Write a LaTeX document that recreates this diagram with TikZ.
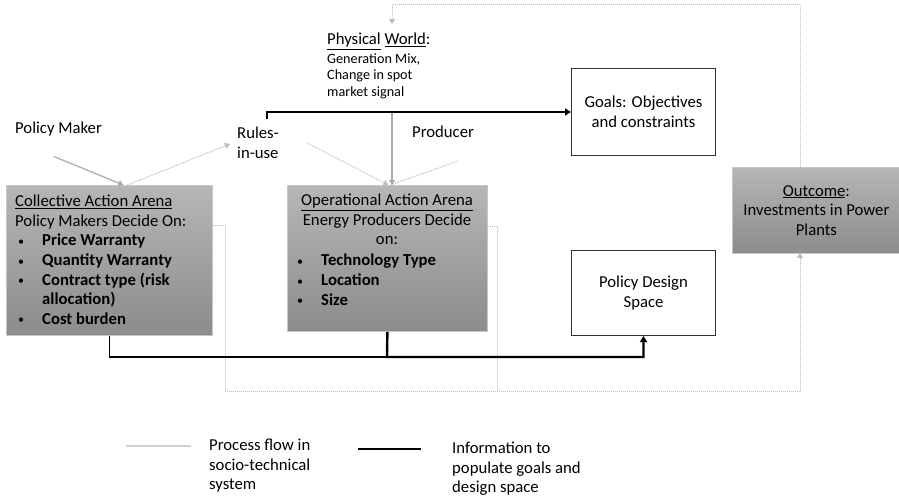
\documentclass[tikz,border=0pt]{standalone}
\usepackage{fontspec}
\setmainfont{Carlito}
\usetikzlibrary{arrows.meta,calc,shadings}
\definecolor{flowgray}{HTML}{BEBEBE}
\definecolor{solidgray}{HTML}{AAAAAA}
\definecolor{boxtop}{HTML}{B6B6B6}
\definecolor{boxbot}{HTML}{8C8C8C}
\definecolor{boxedge}{HTML}{C6C6C6}
\definecolor{framegray}{HTML}{333333}
\newcommand{\bul}[1]{\makebox[27pt][l]{\hspace{3pt}\raisebox{0.5pt}{\fontsize{12}{12}\selectfont\textbullet}}\textbf{#1}}
\begin{document}
\begin{tikzpicture}[x=1pt,y=-1pt,
  txt/.style={font=\fontsize{16.7}{19.6}\selectfont, inner sep=0pt},
  smalltxt/.style={font=\fontsize{14.2}{16.6}\selectfont, inner sep=0pt},
  gbox/.style={draw=boxedge, line width=0.8pt, top color=boxtop, bottom color=boxbot, inner sep=0pt},
  wbox/.style={draw=framegray, line width=1pt, fill=white, inner sep=0pt, minimum width=144pt, align=center, font=\fontsize{16.7}{19.6}\selectfont},
  dotflow/.style={draw=flowgray, line width=1pt, dash pattern=on 1pt off 1pt},
  solidflow/.style={draw=solidgray, line width=1.2pt},
  graytip/.style={-{Triangle[width=6pt,length=5pt]}},
  info/.style={draw=black, line width=2.4pt},
  infothin/.style={draw=black, line width=1.3pt},
  blacktip/.style={-{Triangle[width=7pt,length=6pt]}}
]
\useasboundingbox (0,0) rectangle (899,500);
\fill[white] (0,0) rectangle (899,500);

% boxes
\node[gbox, minimum width=206pt, minimum height=150pt, anchor=north west] (ca) at (6,185) {};
\node[gbox, minimum width=200pt, minimum height=146pt, anchor=north west] (op) at (287,185) {};
\node[gbox, minimum width=168pt, minimum height=86pt, anchor=north west] (oc) at (732,167) {};
\node[wbox, minimum height=87pt, anchor=north west] (goals) at (571,68) {Goals: Objectives\\and constraints};
\node[wbox, minimum height=85pt, anchor=north west] (pds) at (571,250) {Policy Design\\Space};

% box texts
\node[txt, anchor=north west, align=left] (catext) at (15,195)
  {\underline{Collective Action Arena}\\
   Policy Makers Decide On:\\
   \bul{Price Warranty}\\
   \bul{Quantity Warranty}\\
   \bul{Contract type (risk}\\
   \hspace*{27pt}\textbf{allocation)}\\
   \bul{Cost burden}};
\node[txt, anchor=north, align=center] (optitle) at (387,194)
  {\underline{Operational Action Arena}\\
   Energy Producers Decide\\
   on:};
\node[txt, anchor=north west, align=left] (oplist) at (294,254)
  {\bul{Technology Type}\\
   \bul{Location}\\
   \bul{Size}};
\node[txt, align=center] (octext) at (oc.center)
  {\underline{Outcome}:\\Investments in Power\\Plants};

% free texts
\node[txt, anchor=west] (pm) at (15,129) {Policy Maker};
\node[txt, anchor=north west, align=left] (rules) at (237,127) {Rules-\\in-use};
\node[txt, anchor=west] (prod) at (412,132) {Producer};
\node[txt, anchor=north west] (pw) at (327,33) {\underline{Physical} \underline{World}:};
\node[smalltxt, anchor=north west, align=left] (pwsub) at (327,53)
  {Generation Mix,\\Change in spot\\market signal};

% routing coordinates
\coordinate (pwfoot) at (392,113);
\coordinate (pwin) at (392,24);
\coordinate (toprail) at (392,5);
\coordinate (ocup) at (800,167);
\coordinate (ocdown) at (800,253);
\coordinate (caout) at (225,225);
\coordinate (opout) at (497,226);
\coordinate (botrail) at (225,391);
\coordinate (merge) at (497,391);
\coordinate (rulesup) at (267,119);
\coordinate (join) at (387,357);

% process flows
\draw[solidflow, graytip] ($(pm.south)+(-5,20)$) -- ($(ca.north)+(14,0)$);
\draw[dotflow, graytip] ($(ca.north)+(18,0)$) -- ($(rules.west)+(-7,1)$);
\draw[dotflow, graytip] ($(rules.east)+(28,0)$) -- ($(op.north)+(1,0)$);
\draw[dotflow] ($(prod.south)+(15,23)$) -- ($(op.north)+(3,0)$);
\draw[solidflow, graytip] (pwfoot) -- (op.north -| pwfoot);
\draw[dotflow, graytip] (ocup) |- (toprail) -- (pwin);
\draw[dotflow] (ca.east |- caout) -- (caout) -- (botrail) -- (merge);
\draw[dotflow] (op.east |- opout) -- (opout) -- (merge);
\draw[dotflow, graytip] (merge) -| (ocdown);

% information flows
\draw[info, blacktip] (rulesup) |- (goals.west);
\draw[infothin] (ca.south) |- (join);
\draw[info, blacktip] (op.south) -- (join) -| (pds.south);

% legend
\coordinate (lg1a) at (126,446);
\coordinate (lg1b) at (191,446);
\coordinate (lg2a) at (358,449);
\coordinate (lg2b) at (421,449);
\draw[draw=flowgray!70, line width=1.2pt] (lg1a) -- (lg1b);
\draw[info] (lg2a) -- (lg2b);
\node[txt, anchor=north west, align=left] (lg1t) at (209,439) {Process flow in\\socio-technical\\system};
\node[txt, anchor=north west, align=left] (lg2t) at (452,442) {Information to\\populate goals and\\design space};
\end{tikzpicture}
\end{document}
